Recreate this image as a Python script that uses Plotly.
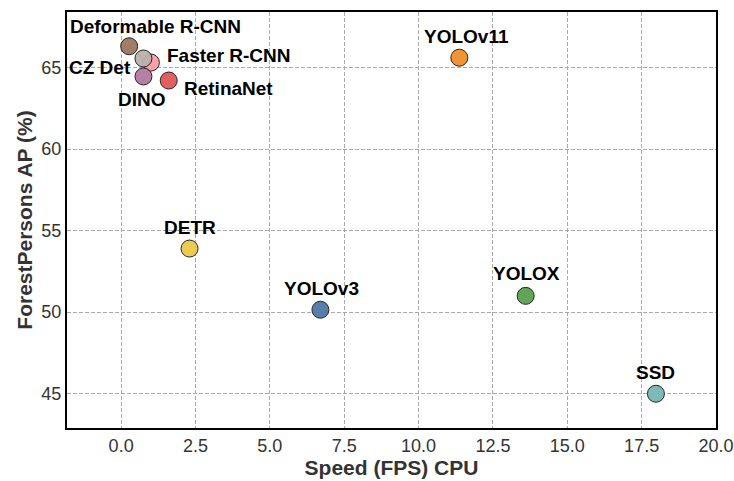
import plotly.graph_objects as go

models = ["Deformable R-CNN", "Faster R-CNN", "CZ Det", "DINO", "RetinaNet",
          "YOLOv11", "DETR", "YOLOv3", "YOLOX", "SSD"]
fps = [0.27, 1.0, 0.75, 0.75, 1.6, 11.37, 2.3, 6.7, 13.6, 17.98]
ap = [66.3, 65.3, 65.55, 64.45, 64.2, 65.6, 53.9, 50.15, 51.0, 45.0]
colors = ["#9c755f", "#ff9da7", "#bab0ac", "#b07aa1", "#e15759",
          "#f28e2b", "#edc948", "#4e79a7", "#59a14f", "#76b7b2"]
x_ticks = [0, 2.5, 5, 7.5, 10, 12.5, 15, 17.5, 20]
y_ticks = [45, 50, 55, 60, 65]
# label offsets in pixels (xshift, yshift, xanchor)
offsets = {
    "Deformable R-CNN": (26, 20, "center"),
    "Faster R-CNN": (14, 7, "left"),
    "CZ Det": (-10, -9, "right"),
    "DINO": (-1, -23, "center"),
    "RetinaNet": (13, -8, "left"),
    "YOLOv11": (7, 21, "center"),
    "DETR": (0, 21, "center"),
    "YOLOv3": (1, 21, "center"),
    "YOLOX": (1, 22, "center"),
    "SSD": (0, 21, "center"),
}

fig = go.Figure()
for m, x, y, c in zip(models, fps, ap, colors):
    fig.add_trace(go.Scatter(
        x=[x], y=[y], mode="markers", name=m, showlegend=False,
        marker=dict(size=17, color=c, opacity=0.95,
                    line=dict(color="#1a1a1a", width=1)),
    ))
    dx, dy, anc = offsets[m]
    fig.add_annotation(x=x, y=y, text="<b>%s</b>" % m, showarrow=False,
                       xshift=dx, yshift=dy, xanchor=anc, yanchor="middle",
                       font=dict(family="Liberation Sans, Arial", size=19, color="#000000"))

fig.update_layout(
    width=734, height=481,
    margin=dict(l=67, r=18, t=12, b=53, autoexpand=False),
    plot_bgcolor="white", paper_bgcolor="white",
    font=dict(family="Liberation Sans, Arial", size=18, color="#333333"),
)
fig.update_xaxes(
    range=[-1.82, 20], tickvals=x_ticks, ticktext=["%.1f" % v for v in x_ticks],
    showgrid=True, gridcolor="#aaaaaa", griddash="4px,2px", gridwidth=1,
    zeroline=False, showline=True, linecolor="black", linewidth=2, mirror=True,
    ticks="", automargin=False,
    title=dict(text="<b>Speed (FPS) CPU</b>", font=dict(size=21, color="#333333"), standoff=4),
)
fig.update_yaxes(
    range=[42.9, 68.4], tickvals=y_ticks,
    showgrid=True, gridcolor="#aaaaaa", griddash="4px,2px", gridwidth=1,
    zeroline=False, showline=True, linecolor="black", linewidth=2, mirror=True,
    ticks="", automargin=False,
    title=dict(text="<b>ForestPersons AP (%)</b>", font=dict(size=21, color="#333333"), standoff=3),
)

fig.write_html("out.html", config={"displayModeBar": False},
               post_script="document.body.style.margin='0';")
